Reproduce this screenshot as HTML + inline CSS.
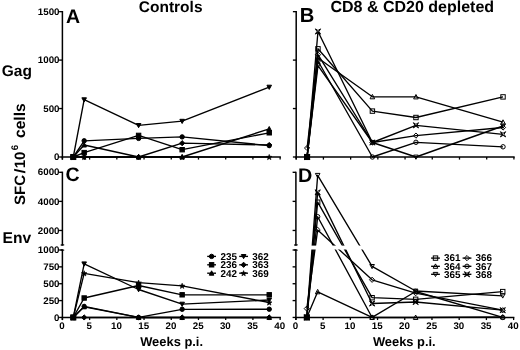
<!DOCTYPE html><html><head><meta charset="utf-8"><style>html,body{margin:0;padding:0;background:#fff;}svg{display:block;will-change:transform}text{text-rendering:geometricPrecision}</style></head><body>
<svg width="520" height="350" viewBox="0 0 520 350">
<rect width="520" height="350" fill="#fff"/>
<text x="170.65" y="12.0" font-size="15.5" text-anchor="middle" font-family="'Liberation Sans', sans-serif" font-weight="bold">Controls</text>
<text x="412.3" y="12.0" font-size="16.0" text-anchor="middle" font-family="'Liberation Sans', sans-serif" font-weight="bold">CD8 &amp; CD20 depleted</text>
<text x="65.9" y="22.9" font-size="19.5" font-family="'Liberation Sans', sans-serif" font-weight="bold">A</text>
<text x="299.8" y="22.3" font-size="20.2" font-family="'Liberation Sans', sans-serif" font-weight="bold">B</text>
<text x="65.6" y="181.4" font-size="19.5" font-family="'Liberation Sans', sans-serif" font-weight="bold">C</text>
<text x="297.9" y="181.6" font-size="19.8" font-family="'Liberation Sans', sans-serif" font-weight="bold">D</text>
<text x="1.8" y="75.7" font-size="15.5" font-family="'Liberation Sans', sans-serif" font-weight="bold">Gag</text>
<text x="2.5" y="242.8" font-size="15.6" font-family="'Liberation Sans', sans-serif" font-weight="bold">Env</text>
<text transform="translate(25.3,205.0) rotate(-90)" font-size="15" font-family="'Liberation Sans', sans-serif" font-weight="bold">SFC</text>
<text transform="translate(25.3,173.6) rotate(-90) scale(1.2,1)" font-size="15" font-family="'Liberation Sans', sans-serif" font-weight="bold">/</text>
<text transform="translate(25.3,168.3) rotate(-90)" font-size="15" font-family="'Liberation Sans', sans-serif" font-weight="bold">10</text>
<text transform="translate(17.6,150.3) rotate(-90)" font-size="9.6" font-family="'Liberation Sans', sans-serif" font-weight="bold">6</text>
<text transform="translate(25.3,138.0) rotate(-90)" font-size="15.6" font-family="'Liberation Sans', sans-serif" font-weight="bold">cells</text>
<text x="140.2" y="345.8" font-size="12.9" font-family="'Liberation Sans', sans-serif" font-weight="bold">Weeks p.i.</text>
<text x="372.9" y="345.8" font-size="12.9" font-family="'Liberation Sans', sans-serif" font-weight="bold">Weeks p.i.</text>
<line x1="62.4" y1="11.00" x2="62.4" y2="159.60" stroke="#000" stroke-width="1.5"/>
<line x1="59.10" y1="157.00" x2="62.40" y2="157.00" stroke="#000" stroke-width="1.35"/>
<text x="59.55" y="160.15" font-size="9.5" text-anchor="end" textLength="5.44" lengthAdjust="spacingAndGlyphs" font-family="'Liberation Sans', sans-serif" font-weight="bold">0</text>
<line x1="59.10" y1="108.55" x2="62.40" y2="108.55" stroke="#000" stroke-width="1.35"/>
<text x="59.55" y="111.70" font-size="9.5" text-anchor="end" textLength="16.32" lengthAdjust="spacingAndGlyphs" font-family="'Liberation Sans', sans-serif" font-weight="bold">500</text>
<line x1="59.10" y1="60.10" x2="62.40" y2="60.10" stroke="#000" stroke-width="1.35"/>
<text x="59.55" y="63.25" font-size="9.5" text-anchor="end" textLength="21.76" lengthAdjust="spacingAndGlyphs" font-family="'Liberation Sans', sans-serif" font-weight="bold">1000</text>
<line x1="59.10" y1="11.65" x2="62.40" y2="11.65" stroke="#000" stroke-width="1.35"/>
<text x="59.55" y="14.80" font-size="9.5" text-anchor="end" textLength="21.76" lengthAdjust="spacingAndGlyphs" font-family="'Liberation Sans', sans-serif" font-weight="bold">1500</text>
<line x1="61.65" y1="157.0" x2="280.87" y2="157.0" stroke="#000" stroke-width="1.5"/>
<line x1="62.40" y1="157.0" x2="62.40" y2="159.60" stroke="#000" stroke-width="1.3"/>
<line x1="89.61" y1="157.0" x2="89.61" y2="159.60" stroke="#000" stroke-width="1.3"/>
<line x1="116.83" y1="157.0" x2="116.83" y2="159.60" stroke="#000" stroke-width="1.3"/>
<line x1="144.04" y1="157.0" x2="144.04" y2="159.60" stroke="#000" stroke-width="1.3"/>
<line x1="171.26" y1="157.0" x2="171.26" y2="159.60" stroke="#000" stroke-width="1.3"/>
<line x1="198.47" y1="157.0" x2="198.47" y2="159.60" stroke="#000" stroke-width="1.3"/>
<line x1="225.69" y1="157.0" x2="225.69" y2="159.60" stroke="#000" stroke-width="1.3"/>
<line x1="252.91" y1="157.0" x2="252.91" y2="159.60" stroke="#000" stroke-width="1.3"/>
<line x1="280.12" y1="157.0" x2="280.12" y2="159.60" stroke="#000" stroke-width="1.3"/>
<line x1="296.2" y1="11.00" x2="296.2" y2="159.60" stroke="#000" stroke-width="1.5"/>
<line x1="292.90" y1="157.00" x2="296.20" y2="157.00" stroke="#000" stroke-width="1.35"/>
<line x1="292.90" y1="108.55" x2="296.20" y2="108.55" stroke="#000" stroke-width="1.35"/>
<line x1="292.90" y1="60.10" x2="296.20" y2="60.10" stroke="#000" stroke-width="1.35"/>
<line x1="292.90" y1="11.65" x2="296.20" y2="11.65" stroke="#000" stroke-width="1.35"/>
<line x1="295.45" y1="157.0" x2="514.67" y2="157.0" stroke="#000" stroke-width="1.5"/>
<line x1="296.20" y1="157.0" x2="296.20" y2="159.60" stroke="#000" stroke-width="1.3"/>
<line x1="323.41" y1="157.0" x2="323.41" y2="159.60" stroke="#000" stroke-width="1.3"/>
<line x1="350.63" y1="157.0" x2="350.63" y2="159.60" stroke="#000" stroke-width="1.3"/>
<line x1="377.84" y1="157.0" x2="377.84" y2="159.60" stroke="#000" stroke-width="1.3"/>
<line x1="405.06" y1="157.0" x2="405.06" y2="159.60" stroke="#000" stroke-width="1.3"/>
<line x1="432.27" y1="157.0" x2="432.27" y2="159.60" stroke="#000" stroke-width="1.3"/>
<line x1="459.49" y1="157.0" x2="459.49" y2="159.60" stroke="#000" stroke-width="1.3"/>
<line x1="486.70" y1="157.0" x2="486.70" y2="159.60" stroke="#000" stroke-width="1.3"/>
<line x1="513.92" y1="157.0" x2="513.92" y2="159.60" stroke="#000" stroke-width="1.3"/>
<line x1="62.4" y1="171.65" x2="62.4" y2="245.50" stroke="#000" stroke-width="1.5"/>
<line x1="62.4" y1="249.50" x2="62.4" y2="320.05" stroke="#000" stroke-width="1.5"/>
<line x1="60.70" y1="245.00" x2="64.20" y2="245.00" stroke="#000" stroke-width="1.4"/>
<line x1="60.70" y1="250.00" x2="64.20" y2="250.00" stroke="#000" stroke-width="1.4"/>
<line x1="59.10" y1="230.46" x2="62.40" y2="230.46" stroke="#000" stroke-width="1.35"/>
<text x="59.55" y="233.61" font-size="9.5" text-anchor="end" textLength="21.76" lengthAdjust="spacingAndGlyphs" font-family="'Liberation Sans', sans-serif" font-weight="bold">2000</text>
<line x1="59.10" y1="201.38" x2="62.40" y2="201.38" stroke="#000" stroke-width="1.35"/>
<text x="59.55" y="204.53" font-size="9.5" text-anchor="end" textLength="21.76" lengthAdjust="spacingAndGlyphs" font-family="'Liberation Sans', sans-serif" font-weight="bold">4000</text>
<line x1="59.10" y1="172.30" x2="62.40" y2="172.30" stroke="#000" stroke-width="1.35"/>
<text x="59.55" y="175.45" font-size="9.5" text-anchor="end" textLength="21.76" lengthAdjust="spacingAndGlyphs" font-family="'Liberation Sans', sans-serif" font-weight="bold">6000</text>
<line x1="59.10" y1="317.45" x2="62.40" y2="317.45" stroke="#000" stroke-width="1.35"/>
<text x="59.55" y="320.60" font-size="9.5" text-anchor="end" textLength="5.44" lengthAdjust="spacingAndGlyphs" font-family="'Liberation Sans', sans-serif" font-weight="bold">0</text>
<line x1="59.10" y1="300.59" x2="62.40" y2="300.59" stroke="#000" stroke-width="1.35"/>
<text x="59.55" y="303.74" font-size="9.5" text-anchor="end" textLength="16.32" lengthAdjust="spacingAndGlyphs" font-family="'Liberation Sans', sans-serif" font-weight="bold">250</text>
<line x1="59.10" y1="283.73" x2="62.40" y2="283.73" stroke="#000" stroke-width="1.35"/>
<text x="59.55" y="286.88" font-size="9.5" text-anchor="end" textLength="16.32" lengthAdjust="spacingAndGlyphs" font-family="'Liberation Sans', sans-serif" font-weight="bold">500</text>
<line x1="59.10" y1="266.86" x2="62.40" y2="266.86" stroke="#000" stroke-width="1.35"/>
<text x="59.55" y="270.01" font-size="9.5" text-anchor="end" textLength="16.32" lengthAdjust="spacingAndGlyphs" font-family="'Liberation Sans', sans-serif" font-weight="bold">750</text>
<line x1="59.10" y1="250.00" x2="62.40" y2="250.00" stroke="#000" stroke-width="1.35"/>
<text x="59.55" y="253.15" font-size="9.5" text-anchor="end" textLength="21.76" lengthAdjust="spacingAndGlyphs" font-family="'Liberation Sans', sans-serif" font-weight="bold">1000</text>
<line x1="61.65" y1="317.45" x2="280.87" y2="317.45" stroke="#000" stroke-width="1.5"/>
<line x1="62.40" y1="317.45" x2="62.40" y2="320.05" stroke="#000" stroke-width="1.3"/>
<text x="62.10" y="329.0" font-size="9.5" text-anchor="middle" textLength="5.44" lengthAdjust="spacingAndGlyphs" font-family="'Liberation Sans', sans-serif" font-weight="bold">0</text>
<line x1="89.61" y1="317.45" x2="89.61" y2="320.05" stroke="#000" stroke-width="1.3"/>
<text x="89.31" y="329.0" font-size="9.5" text-anchor="middle" textLength="5.44" lengthAdjust="spacingAndGlyphs" font-family="'Liberation Sans', sans-serif" font-weight="bold">5</text>
<line x1="116.83" y1="317.45" x2="116.83" y2="320.05" stroke="#000" stroke-width="1.3"/>
<text x="116.53" y="329.0" font-size="9.5" text-anchor="middle" textLength="10.88" lengthAdjust="spacingAndGlyphs" font-family="'Liberation Sans', sans-serif" font-weight="bold">10</text>
<line x1="144.04" y1="317.45" x2="144.04" y2="320.05" stroke="#000" stroke-width="1.3"/>
<text x="143.74" y="329.0" font-size="9.5" text-anchor="middle" textLength="10.88" lengthAdjust="spacingAndGlyphs" font-family="'Liberation Sans', sans-serif" font-weight="bold">15</text>
<line x1="171.26" y1="317.45" x2="171.26" y2="320.05" stroke="#000" stroke-width="1.3"/>
<text x="170.96" y="329.0" font-size="9.5" text-anchor="middle" textLength="10.88" lengthAdjust="spacingAndGlyphs" font-family="'Liberation Sans', sans-serif" font-weight="bold">20</text>
<line x1="198.47" y1="317.45" x2="198.47" y2="320.05" stroke="#000" stroke-width="1.3"/>
<text x="198.17" y="329.0" font-size="9.5" text-anchor="middle" textLength="10.88" lengthAdjust="spacingAndGlyphs" font-family="'Liberation Sans', sans-serif" font-weight="bold">25</text>
<line x1="225.69" y1="317.45" x2="225.69" y2="320.05" stroke="#000" stroke-width="1.3"/>
<text x="225.39" y="329.0" font-size="9.5" text-anchor="middle" textLength="10.88" lengthAdjust="spacingAndGlyphs" font-family="'Liberation Sans', sans-serif" font-weight="bold">30</text>
<line x1="252.91" y1="317.45" x2="252.91" y2="320.05" stroke="#000" stroke-width="1.3"/>
<text x="252.60" y="329.0" font-size="9.5" text-anchor="middle" textLength="10.88" lengthAdjust="spacingAndGlyphs" font-family="'Liberation Sans', sans-serif" font-weight="bold">35</text>
<line x1="280.12" y1="317.45" x2="280.12" y2="320.05" stroke="#000" stroke-width="1.3"/>
<text x="279.82" y="329.0" font-size="9.5" text-anchor="middle" textLength="10.88" lengthAdjust="spacingAndGlyphs" font-family="'Liberation Sans', sans-serif" font-weight="bold">40</text>
<line x1="295.9" y1="171.65" x2="295.9" y2="245.50" stroke="#000" stroke-width="1.5"/>
<line x1="295.9" y1="249.50" x2="295.9" y2="320.05" stroke="#000" stroke-width="1.5"/>
<line x1="294.20" y1="245.00" x2="297.70" y2="245.00" stroke="#000" stroke-width="1.4"/>
<line x1="294.20" y1="250.00" x2="297.70" y2="250.00" stroke="#000" stroke-width="1.4"/>
<line x1="292.60" y1="230.46" x2="295.90" y2="230.46" stroke="#000" stroke-width="1.35"/>
<line x1="292.60" y1="201.38" x2="295.90" y2="201.38" stroke="#000" stroke-width="1.35"/>
<line x1="292.60" y1="172.30" x2="295.90" y2="172.30" stroke="#000" stroke-width="1.35"/>
<line x1="292.60" y1="317.45" x2="295.90" y2="317.45" stroke="#000" stroke-width="1.35"/>
<line x1="292.60" y1="300.59" x2="295.90" y2="300.59" stroke="#000" stroke-width="1.35"/>
<line x1="292.60" y1="283.73" x2="295.90" y2="283.73" stroke="#000" stroke-width="1.35"/>
<line x1="292.60" y1="266.86" x2="295.90" y2="266.86" stroke="#000" stroke-width="1.35"/>
<line x1="292.60" y1="250.00" x2="295.90" y2="250.00" stroke="#000" stroke-width="1.35"/>
<line x1="295.15" y1="317.45" x2="514.37" y2="317.45" stroke="#000" stroke-width="1.5"/>
<line x1="295.90" y1="317.45" x2="295.90" y2="320.05" stroke="#000" stroke-width="1.3"/>
<text x="295.60" y="329.0" font-size="9.5" text-anchor="middle" textLength="5.44" lengthAdjust="spacingAndGlyphs" font-family="'Liberation Sans', sans-serif" font-weight="bold">0</text>
<line x1="323.11" y1="317.45" x2="323.11" y2="320.05" stroke="#000" stroke-width="1.3"/>
<text x="322.81" y="329.0" font-size="9.5" text-anchor="middle" textLength="5.44" lengthAdjust="spacingAndGlyphs" font-family="'Liberation Sans', sans-serif" font-weight="bold">5</text>
<line x1="350.33" y1="317.45" x2="350.33" y2="320.05" stroke="#000" stroke-width="1.3"/>
<text x="350.03" y="329.0" font-size="9.5" text-anchor="middle" textLength="10.88" lengthAdjust="spacingAndGlyphs" font-family="'Liberation Sans', sans-serif" font-weight="bold">10</text>
<line x1="377.54" y1="317.45" x2="377.54" y2="320.05" stroke="#000" stroke-width="1.3"/>
<text x="377.24" y="329.0" font-size="9.5" text-anchor="middle" textLength="10.88" lengthAdjust="spacingAndGlyphs" font-family="'Liberation Sans', sans-serif" font-weight="bold">15</text>
<line x1="404.76" y1="317.45" x2="404.76" y2="320.05" stroke="#000" stroke-width="1.3"/>
<text x="404.46" y="329.0" font-size="9.5" text-anchor="middle" textLength="10.88" lengthAdjust="spacingAndGlyphs" font-family="'Liberation Sans', sans-serif" font-weight="bold">20</text>
<line x1="431.97" y1="317.45" x2="431.97" y2="320.05" stroke="#000" stroke-width="1.3"/>
<text x="431.67" y="329.0" font-size="9.5" text-anchor="middle" textLength="10.88" lengthAdjust="spacingAndGlyphs" font-family="'Liberation Sans', sans-serif" font-weight="bold">25</text>
<line x1="459.19" y1="317.45" x2="459.19" y2="320.05" stroke="#000" stroke-width="1.3"/>
<text x="458.89" y="329.0" font-size="9.5" text-anchor="middle" textLength="10.88" lengthAdjust="spacingAndGlyphs" font-family="'Liberation Sans', sans-serif" font-weight="bold">30</text>
<line x1="486.40" y1="317.45" x2="486.40" y2="320.05" stroke="#000" stroke-width="1.3"/>
<text x="486.10" y="329.0" font-size="9.5" text-anchor="middle" textLength="10.88" lengthAdjust="spacingAndGlyphs" font-family="'Liberation Sans', sans-serif" font-weight="bold">35</text>
<line x1="513.62" y1="317.45" x2="513.62" y2="320.05" stroke="#000" stroke-width="1.3"/>
<text x="513.32" y="329.0" font-size="9.5" text-anchor="middle" textLength="10.88" lengthAdjust="spacingAndGlyphs" font-family="'Liberation Sans', sans-serif" font-weight="bold">40</text>
<polyline points="73.29,157.00 84.17,99.70 138.60,125.40 182.15,121.20 269.23,87.10" fill="none" stroke="#000" stroke-width="1.35" stroke-linejoin="round"/>
<polyline points="73.29,157.00 84.17,140.80 138.60,138.40 182.15,136.90 269.23,145.60" fill="none" stroke="#000" stroke-width="1.35" stroke-linejoin="round"/>
<polyline points="73.29,157.00 84.17,145.00 138.60,157.00 182.15,157.00 269.23,128.90" fill="none" stroke="#000" stroke-width="1.35" stroke-linejoin="round"/>
<polyline points="73.29,157.00 84.17,152.60 138.60,135.40 182.15,149.70 269.23,132.80" fill="none" stroke="#000" stroke-width="1.35" stroke-linejoin="round"/>
<polyline points="73.29,157.00 84.17,157.00 138.60,157.00 182.15,143.20 269.23,145.00" fill="none" stroke="#000" stroke-width="1.35" stroke-linejoin="round"/>
<polyline points="73.29,157.00 84.17,157.00 138.60,157.00 182.15,157.00 269.23,157.00" fill="none" stroke="#000" stroke-width="1.35" stroke-linejoin="round"/>
<polygon points="73.29,159.30 75.59,155.10 70.99,155.10" fill="#000" stroke="#000" stroke-width="1.0" stroke-linejoin="miter"/>
<polygon points="84.17,102.00 86.47,97.80 81.87,97.80" fill="#000" stroke="#000" stroke-width="1.0" stroke-linejoin="miter"/>
<polygon points="138.60,127.70 140.90,123.50 136.30,123.50" fill="#000" stroke="#000" stroke-width="1.0" stroke-linejoin="miter"/>
<polygon points="182.15,123.50 184.45,119.30 179.85,119.30" fill="#000" stroke="#000" stroke-width="1.0" stroke-linejoin="miter"/>
<polygon points="269.23,89.40 271.53,85.20 266.93,85.20" fill="#000" stroke="#000" stroke-width="1.0" stroke-linejoin="miter"/>
<circle cx="73.29" cy="157.00" r="2.20" fill="#000" stroke="#000" stroke-width="1.0"/>
<circle cx="84.17" cy="140.80" r="2.20" fill="#000" stroke="#000" stroke-width="1.0"/>
<circle cx="138.60" cy="138.40" r="2.20" fill="#000" stroke="#000" stroke-width="1.0"/>
<circle cx="182.15" cy="136.90" r="2.20" fill="#000" stroke="#000" stroke-width="1.0"/>
<circle cx="269.23" cy="145.60" r="2.20" fill="#000" stroke="#000" stroke-width="1.0"/>
<polygon points="73.29,154.60 75.59,159.00 70.99,159.00" fill="#000" stroke="#000" stroke-width="1.0" stroke-linejoin="miter"/>
<polygon points="84.17,142.60 86.47,147.00 81.87,147.00" fill="#000" stroke="#000" stroke-width="1.0" stroke-linejoin="miter"/>
<polygon points="138.60,154.60 140.90,159.00 136.30,159.00" fill="#000" stroke="#000" stroke-width="1.0" stroke-linejoin="miter"/>
<polygon points="182.15,154.60 184.45,159.00 179.85,159.00" fill="#000" stroke="#000" stroke-width="1.0" stroke-linejoin="miter"/>
<polygon points="269.23,126.50 271.53,130.90 266.93,130.90" fill="#000" stroke="#000" stroke-width="1.0" stroke-linejoin="miter"/>
<rect x="71.09" y="154.80" width="4.40" height="4.40" fill="#000" stroke="#000" stroke-width="1.0"/>
<rect x="81.97" y="150.40" width="4.40" height="4.40" fill="#000" stroke="#000" stroke-width="1.0"/>
<rect x="136.40" y="133.20" width="4.40" height="4.40" fill="#000" stroke="#000" stroke-width="1.0"/>
<rect x="179.95" y="147.50" width="4.40" height="4.40" fill="#000" stroke="#000" stroke-width="1.0"/>
<rect x="267.03" y="130.60" width="4.40" height="4.40" fill="#000" stroke="#000" stroke-width="1.0"/>
<polygon points="73.29,154.40 75.89,157.00 73.29,159.60 70.69,157.00" fill="#000" stroke="#000" stroke-width="1.0"/>
<polygon points="84.17,154.40 86.77,157.00 84.17,159.60 81.57,157.00" fill="#000" stroke="#000" stroke-width="1.0"/>
<polygon points="138.60,154.40 141.20,157.00 138.60,159.60 136.00,157.00" fill="#000" stroke="#000" stroke-width="1.0"/>
<polygon points="182.15,140.60 184.75,143.20 182.15,145.80 179.55,143.20" fill="#000" stroke="#000" stroke-width="1.0"/>
<polygon points="269.23,142.40 271.83,145.00 269.23,147.60 266.63,145.00" fill="#000" stroke="#000" stroke-width="1.0"/>
<polygon points="73.29,154.40 72.55,156.29 70.53,156.40 72.10,157.69 71.58,159.65 73.29,158.55 74.99,159.65 74.47,157.69 76.04,156.40 74.02,156.29" fill="#000" stroke="#000" stroke-width="0.60"/>
<polygon points="84.17,154.40 83.44,156.29 81.41,156.40 82.98,157.69 82.47,159.65 84.17,158.55 85.88,159.65 85.36,157.69 86.93,156.40 84.91,156.29" fill="#000" stroke="#000" stroke-width="0.60"/>
<polygon points="138.60,154.40 137.87,156.29 135.84,156.40 137.41,157.69 136.90,159.65 138.60,158.55 140.31,159.65 139.79,157.69 141.36,156.40 139.34,156.29" fill="#000" stroke="#000" stroke-width="0.60"/>
<polygon points="182.15,154.40 181.41,156.29 179.39,156.40 180.96,157.69 180.44,159.65 182.15,158.55 183.85,159.65 183.33,157.69 184.90,156.40 182.88,156.29" fill="#000" stroke="#000" stroke-width="0.60"/>
<polygon points="269.23,154.40 268.50,156.29 266.48,156.40 268.05,157.69 267.53,159.65 269.23,158.55 270.94,159.65 270.42,157.69 271.99,156.40 269.97,156.29" fill="#000" stroke="#000" stroke-width="0.60"/>
<polyline points="307.09,157.00 317.97,31.50 372.40,142.50 415.95,125.30 503.03,134.30" fill="none" stroke="#000" stroke-width="1.35" stroke-linejoin="round"/>
<polyline points="307.09,157.00 317.97,48.80 372.40,111.10 415.95,117.50 503.03,96.90" fill="none" stroke="#000" stroke-width="1.35" stroke-linejoin="round"/>
<polyline points="307.09,148.00 317.97,54.70 372.40,142.50 415.95,135.60 503.03,127.50" fill="none" stroke="#000" stroke-width="1.35" stroke-linejoin="round"/>
<polyline points="307.09,157.00 317.97,58.00 372.40,96.80 415.95,96.90 503.03,122.20" fill="none" stroke="#000" stroke-width="1.35" stroke-linejoin="round"/>
<polyline points="307.09,157.00 317.97,61.00 372.40,157.00 415.95,142.30 503.03,146.80" fill="none" stroke="#000" stroke-width="1.35" stroke-linejoin="round"/>
<polyline points="307.09,157.00 317.97,65.60 372.40,142.50 415.95,157.00 503.03,126.00" fill="none" stroke="#000" stroke-width="1.35" stroke-linejoin="round"/>
<polygon points="304.49,154.40 307.09,156.00 309.69,154.40 308.09,157.00 309.69,159.60 307.09,158.00 304.49,159.60 306.09,157.00" fill="none" stroke="#000" stroke-width="1.0"/>
<polygon points="315.37,28.90 317.97,30.50 320.57,28.90 318.97,31.50 320.57,34.10 317.97,32.50 315.37,34.10 316.97,31.50" fill="none" stroke="#000" stroke-width="1.0"/>
<polygon points="369.80,139.90 372.40,141.50 375.00,139.90 373.40,142.50 375.00,145.10 372.40,143.50 369.80,145.10 371.40,142.50" fill="none" stroke="#000" stroke-width="1.0"/>
<polygon points="413.35,122.70 415.95,124.30 418.55,122.70 416.95,125.30 418.55,127.90 415.95,126.30 413.35,127.90 414.95,125.30" fill="none" stroke="#000" stroke-width="1.0"/>
<polygon points="500.43,131.70 503.03,133.30 505.63,131.70 504.03,134.30 505.63,136.90 503.03,135.30 500.43,136.90 502.03,134.30" fill="none" stroke="#000" stroke-width="1.0"/>
<rect x="304.89" y="154.80" width="4.40" height="4.40" fill="none" stroke="#000" stroke-width="1.0"/>
<rect x="315.77" y="46.60" width="4.40" height="4.40" fill="none" stroke="#000" stroke-width="1.0"/>
<rect x="370.20" y="108.90" width="4.40" height="4.40" fill="none" stroke="#000" stroke-width="1.0"/>
<rect x="413.75" y="115.30" width="4.40" height="4.40" fill="none" stroke="#000" stroke-width="1.0"/>
<rect x="500.83" y="94.70" width="4.40" height="4.40" fill="none" stroke="#000" stroke-width="1.0"/>
<polygon points="307.09,145.40 309.69,148.00 307.09,150.60 304.49,148.00" fill="none" stroke="#000" stroke-width="1.0"/>
<polygon points="317.97,52.10 320.57,54.70 317.97,57.30 315.37,54.70" fill="none" stroke="#000" stroke-width="1.0"/>
<polygon points="372.40,139.90 375.00,142.50 372.40,145.10 369.80,142.50" fill="none" stroke="#000" stroke-width="1.0"/>
<polygon points="415.95,133.00 418.55,135.60 415.95,138.20 413.35,135.60" fill="none" stroke="#000" stroke-width="1.0"/>
<polygon points="503.03,124.90 505.63,127.50 503.03,130.10 500.43,127.50" fill="none" stroke="#000" stroke-width="1.0"/>
<polygon points="307.09,154.60 309.39,159.00 304.79,159.00" fill="none" stroke="#000" stroke-width="1.0" stroke-linejoin="miter"/>
<polygon points="317.97,55.60 320.27,60.00 315.67,60.00" fill="none" stroke="#000" stroke-width="1.0" stroke-linejoin="miter"/>
<polygon points="372.40,94.40 374.70,98.80 370.10,98.80" fill="none" stroke="#000" stroke-width="1.0" stroke-linejoin="miter"/>
<polygon points="415.95,94.50 418.25,98.90 413.65,98.90" fill="none" stroke="#000" stroke-width="1.0" stroke-linejoin="miter"/>
<polygon points="503.03,119.80 505.33,124.20 500.73,124.20" fill="none" stroke="#000" stroke-width="1.0" stroke-linejoin="miter"/>
<circle cx="307.09" cy="157.00" r="2.20" fill="none" stroke="#000" stroke-width="1.0"/>
<circle cx="317.97" cy="61.00" r="2.20" fill="none" stroke="#000" stroke-width="1.0"/>
<circle cx="372.40" cy="157.00" r="2.20" fill="none" stroke="#000" stroke-width="1.0"/>
<circle cx="415.95" cy="142.30" r="2.20" fill="none" stroke="#000" stroke-width="1.0"/>
<circle cx="503.03" cy="146.80" r="2.20" fill="none" stroke="#000" stroke-width="1.0"/>
<polygon points="307.09,159.30 309.39,155.10 304.79,155.10" fill="none" stroke="#000" stroke-width="1.0" stroke-linejoin="miter"/>
<polygon points="317.97,67.90 320.27,63.70 315.67,63.70" fill="none" stroke="#000" stroke-width="1.0" stroke-linejoin="miter"/>
<polygon points="372.40,144.80 374.70,140.60 370.10,140.60" fill="none" stroke="#000" stroke-width="1.0" stroke-linejoin="miter"/>
<polygon points="415.95,159.30 418.25,155.10 413.65,155.10" fill="none" stroke="#000" stroke-width="1.0" stroke-linejoin="miter"/>
<polygon points="503.03,128.30 505.33,124.10 500.73,124.10" fill="none" stroke="#000" stroke-width="1.0" stroke-linejoin="miter"/>
<polyline points="73.29,317.45 84.17,263.80 138.60,289.50 182.15,304.10 269.23,300.00" fill="none" stroke="#000" stroke-width="1.35" stroke-linejoin="round"/>
<polyline points="73.29,317.45 84.17,273.30 138.60,282.60 182.15,285.80 269.23,302.50" fill="none" stroke="#000" stroke-width="1.35" stroke-linejoin="round"/>
<polyline points="73.29,317.45 84.17,298.00 138.60,285.50 182.15,294.80 269.23,294.80" fill="none" stroke="#000" stroke-width="1.35" stroke-linejoin="round"/>
<polyline points="73.29,317.45 84.17,306.40 138.60,317.45 182.15,309.30 269.23,309.20" fill="none" stroke="#000" stroke-width="1.35" stroke-linejoin="round"/>
<polyline points="73.29,317.45 84.17,306.80 138.60,317.45 182.15,317.45 269.23,317.45" fill="none" stroke="#000" stroke-width="1.35" stroke-linejoin="round"/>
<polyline points="73.29,317.45 84.17,317.45 138.60,317.45 182.15,317.45 269.23,317.45" fill="none" stroke="#000" stroke-width="1.35" stroke-linejoin="round"/>
<polygon points="73.29,319.75 75.59,315.55 70.99,315.55" fill="#000" stroke="#000" stroke-width="1.0" stroke-linejoin="miter"/>
<polygon points="84.17,266.10 86.47,261.90 81.87,261.90" fill="#000" stroke="#000" stroke-width="1.0" stroke-linejoin="miter"/>
<polygon points="138.60,291.80 140.90,287.60 136.30,287.60" fill="#000" stroke="#000" stroke-width="1.0" stroke-linejoin="miter"/>
<polygon points="182.15,306.40 184.45,302.20 179.85,302.20" fill="#000" stroke="#000" stroke-width="1.0" stroke-linejoin="miter"/>
<polygon points="269.23,302.30 271.53,298.10 266.93,298.10" fill="#000" stroke="#000" stroke-width="1.0" stroke-linejoin="miter"/>
<polygon points="73.29,314.85 72.55,316.74 70.53,316.85 72.10,318.14 71.58,320.10 73.29,319.00 74.99,320.10 74.47,318.14 76.04,316.85 74.02,316.74" fill="#000" stroke="#000" stroke-width="0.60"/>
<polygon points="84.17,270.70 83.44,272.59 81.41,272.70 82.98,273.99 82.47,275.95 84.17,274.85 85.88,275.95 85.36,273.99 86.93,272.70 84.91,272.59" fill="#000" stroke="#000" stroke-width="0.60"/>
<polygon points="138.60,280.00 137.87,281.89 135.84,282.00 137.41,283.29 136.90,285.25 138.60,284.15 140.31,285.25 139.79,283.29 141.36,282.00 139.34,281.89" fill="#000" stroke="#000" stroke-width="0.60"/>
<polygon points="182.15,283.20 181.41,285.09 179.39,285.20 180.96,286.49 180.44,288.45 182.15,287.35 183.85,288.45 183.33,286.49 184.90,285.20 182.88,285.09" fill="#000" stroke="#000" stroke-width="0.60"/>
<polygon points="269.23,299.90 268.50,301.79 266.48,301.90 268.05,303.19 267.53,305.15 269.23,304.05 270.94,305.15 270.42,303.19 271.99,301.90 269.97,301.79" fill="#000" stroke="#000" stroke-width="0.60"/>
<rect x="71.09" y="315.25" width="4.40" height="4.40" fill="#000" stroke="#000" stroke-width="1.0"/>
<rect x="81.97" y="295.80" width="4.40" height="4.40" fill="#000" stroke="#000" stroke-width="1.0"/>
<rect x="136.40" y="283.30" width="4.40" height="4.40" fill="#000" stroke="#000" stroke-width="1.0"/>
<rect x="179.95" y="292.60" width="4.40" height="4.40" fill="#000" stroke="#000" stroke-width="1.0"/>
<rect x="267.03" y="292.60" width="4.40" height="4.40" fill="#000" stroke="#000" stroke-width="1.0"/>
<circle cx="73.29" cy="317.45" r="2.20" fill="#000" stroke="#000" stroke-width="1.0"/>
<circle cx="84.17" cy="306.40" r="2.20" fill="#000" stroke="#000" stroke-width="1.0"/>
<circle cx="138.60" cy="317.45" r="2.20" fill="#000" stroke="#000" stroke-width="1.0"/>
<circle cx="182.15" cy="309.30" r="2.20" fill="#000" stroke="#000" stroke-width="1.0"/>
<circle cx="269.23" cy="309.20" r="2.20" fill="#000" stroke="#000" stroke-width="1.0"/>
<polygon points="73.29,315.05 75.59,319.45 70.99,319.45" fill="#000" stroke="#000" stroke-width="1.0" stroke-linejoin="miter"/>
<polygon points="84.17,304.40 86.47,308.80 81.87,308.80" fill="#000" stroke="#000" stroke-width="1.0" stroke-linejoin="miter"/>
<polygon points="138.60,315.05 140.90,319.45 136.30,319.45" fill="#000" stroke="#000" stroke-width="1.0" stroke-linejoin="miter"/>
<polygon points="182.15,315.05 184.45,319.45 179.85,319.45" fill="#000" stroke="#000" stroke-width="1.0" stroke-linejoin="miter"/>
<polygon points="269.23,315.05 271.53,319.45 266.93,319.45" fill="#000" stroke="#000" stroke-width="1.0" stroke-linejoin="miter"/>
<polygon points="73.29,314.85 75.89,317.45 73.29,320.05 70.69,317.45" fill="#000" stroke="#000" stroke-width="1.0"/>
<polygon points="84.17,314.85 86.77,317.45 84.17,320.05 81.57,317.45" fill="#000" stroke="#000" stroke-width="1.0"/>
<polygon points="138.60,314.85 141.20,317.45 138.60,320.05 136.00,317.45" fill="#000" stroke="#000" stroke-width="1.0"/>
<polygon points="182.15,314.85 184.75,317.45 182.15,320.05 179.55,317.45" fill="#000" stroke="#000" stroke-width="1.0"/>
<polygon points="269.23,314.85 271.83,317.45 269.23,320.05 266.63,317.45" fill="#000" stroke="#000" stroke-width="1.0"/>
<polyline points="306.79,317.45 317.67,175.30 372.10,266.40 415.65,291.00 502.73,295.80" fill="none" stroke="#000" stroke-width="1.35" stroke-linejoin="round"/>
<polyline points="306.79,317.45 317.67,192.40 372.10,303.50 415.65,302.00 502.73,310.20" fill="none" stroke="#000" stroke-width="1.35" stroke-linejoin="round"/>
<polyline points="306.79,317.45 317.67,202.20 372.10,297.70 415.65,299.30 502.73,291.60" fill="none" stroke="#000" stroke-width="1.35" stroke-linejoin="round"/>
<polyline points="306.79,317.45 317.67,216.70 372.10,317.45 415.65,291.50 502.73,317.45" fill="none" stroke="#000" stroke-width="1.35" stroke-linejoin="round"/>
<polyline points="306.79,308.60 317.67,229.90 372.10,279.80 415.65,293.20 502.73,310.20" fill="none" stroke="#000" stroke-width="1.35" stroke-linejoin="round"/>
<polyline points="306.79,317.45 317.67,291.80 372.10,317.45 415.65,317.45 502.73,317.00" fill="none" stroke="#000" stroke-width="1.35" stroke-linejoin="round"/>
<polygon points="306.79,319.75 309.09,315.55 304.49,315.55" fill="none" stroke="#000" stroke-width="1.0" stroke-linejoin="miter"/>
<polygon points="317.67,177.60 319.97,173.40 315.37,173.40" fill="none" stroke="#000" stroke-width="1.0" stroke-linejoin="miter"/>
<polygon points="372.10,268.70 374.40,264.50 369.80,264.50" fill="none" stroke="#000" stroke-width="1.0" stroke-linejoin="miter"/>
<polygon points="415.65,293.30 417.95,289.10 413.35,289.10" fill="none" stroke="#000" stroke-width="1.0" stroke-linejoin="miter"/>
<polygon points="502.73,298.10 505.03,293.90 500.43,293.90" fill="none" stroke="#000" stroke-width="1.0" stroke-linejoin="miter"/>
<polygon points="304.19,314.85 306.79,316.45 309.39,314.85 307.79,317.45 309.39,320.05 306.79,318.45 304.19,320.05 305.79,317.45" fill="none" stroke="#000" stroke-width="1.0"/>
<polygon points="315.07,189.80 317.67,191.40 320.27,189.80 318.67,192.40 320.27,195.00 317.67,193.40 315.07,195.00 316.67,192.40" fill="none" stroke="#000" stroke-width="1.0"/>
<polygon points="369.50,300.90 372.10,302.50 374.70,300.90 373.10,303.50 374.70,306.10 372.10,304.50 369.50,306.10 371.10,303.50" fill="none" stroke="#000" stroke-width="1.0"/>
<polygon points="413.05,299.40 415.65,301.00 418.25,299.40 416.65,302.00 418.25,304.60 415.65,303.00 413.05,304.60 414.65,302.00" fill="none" stroke="#000" stroke-width="1.0"/>
<polygon points="500.13,307.60 502.73,309.20 505.33,307.60 503.73,310.20 505.33,312.80 502.73,311.20 500.13,312.80 501.73,310.20" fill="none" stroke="#000" stroke-width="1.0"/>
<rect x="304.59" y="315.25" width="4.40" height="4.40" fill="none" stroke="#000" stroke-width="1.0"/>
<rect x="315.47" y="200.00" width="4.40" height="4.40" fill="none" stroke="#000" stroke-width="1.0"/>
<rect x="369.90" y="295.50" width="4.40" height="4.40" fill="none" stroke="#000" stroke-width="1.0"/>
<rect x="413.45" y="297.10" width="4.40" height="4.40" fill="none" stroke="#000" stroke-width="1.0"/>
<rect x="500.53" y="289.40" width="4.40" height="4.40" fill="none" stroke="#000" stroke-width="1.0"/>
<circle cx="306.79" cy="317.45" r="2.20" fill="none" stroke="#000" stroke-width="1.0"/>
<circle cx="317.67" cy="216.70" r="2.20" fill="none" stroke="#000" stroke-width="1.0"/>
<circle cx="372.10" cy="317.45" r="2.20" fill="none" stroke="#000" stroke-width="1.0"/>
<circle cx="415.65" cy="291.50" r="2.20" fill="none" stroke="#000" stroke-width="1.0"/>
<circle cx="502.73" cy="317.45" r="2.20" fill="none" stroke="#000" stroke-width="1.0"/>
<polygon points="306.79,306.00 309.39,308.60 306.79,311.20 304.19,308.60" fill="none" stroke="#000" stroke-width="1.0"/>
<polygon points="317.67,227.30 320.27,229.90 317.67,232.50 315.07,229.90" fill="none" stroke="#000" stroke-width="1.0"/>
<polygon points="372.10,277.20 374.70,279.80 372.10,282.40 369.50,279.80" fill="none" stroke="#000" stroke-width="1.0"/>
<polygon points="415.65,290.60 418.25,293.20 415.65,295.80 413.05,293.20" fill="none" stroke="#000" stroke-width="1.0"/>
<polygon points="502.73,307.60 505.33,310.20 502.73,312.80 500.13,310.20" fill="none" stroke="#000" stroke-width="1.0"/>
<polygon points="306.79,315.05 309.09,319.45 304.49,319.45" fill="none" stroke="#000" stroke-width="1.0" stroke-linejoin="miter"/>
<polygon points="317.67,289.40 319.97,293.80 315.37,293.80" fill="none" stroke="#000" stroke-width="1.0" stroke-linejoin="miter"/>
<polygon points="372.10,315.05 374.40,319.45 369.80,319.45" fill="none" stroke="#000" stroke-width="1.0" stroke-linejoin="miter"/>
<polygon points="415.65,315.05 417.95,319.45 413.35,319.45" fill="none" stroke="#000" stroke-width="1.0" stroke-linejoin="miter"/>
<polygon points="502.73,314.60 505.03,319.00 500.43,319.00" fill="none" stroke="#000" stroke-width="1.0" stroke-linejoin="miter"/>
<rect x="70.76" y="154.47" width="5.06" height="5.06" fill="#000" stroke="#000" stroke-width="1.0"/>
<rect x="304.56" y="154.47" width="5.06" height="5.06" fill="#000" stroke="#000" stroke-width="1.0"/>
<rect x="70.76" y="314.92" width="5.06" height="5.06" fill="#000" stroke="#000" stroke-width="1.0"/>
<rect x="304.26" y="314.92" width="5.06" height="5.06" fill="#000" stroke="#000" stroke-width="1.0"/>
<rect x="63.40" y="245.6" width="217.72" height="3.9" fill="#fff"/>
<rect x="296.90" y="245.6" width="217.72" height="3.9" fill="#fff"/>
<circle cx="211.60" cy="256.40" r="2.20" fill="#000" stroke="#000" stroke-width="1.0"/>
<line x1="207.20" y1="256.40" x2="216.00" y2="256.40" stroke="#000" stroke-width="1.35"/>
<text x="220.60" y="259.70" font-size="9.9" font-family="'Liberation Sans', sans-serif" font-weight="bold">235</text>
<polygon points="243.60,258.70 245.90,254.50 241.30,254.50" fill="#000" stroke="#000" stroke-width="1.0" stroke-linejoin="miter"/>
<line x1="239.20" y1="256.40" x2="248.00" y2="256.40" stroke="#000" stroke-width="1.35"/>
<text x="252.20" y="259.70" font-size="9.9" font-family="'Liberation Sans', sans-serif" font-weight="bold">362</text>
<rect x="209.40" y="262.60" width="4.40" height="4.40" fill="#000" stroke="#000" stroke-width="1.0"/>
<line x1="207.20" y1="264.80" x2="216.00" y2="264.80" stroke="#000" stroke-width="1.35"/>
<text x="220.60" y="268.10" font-size="9.9" font-family="'Liberation Sans', sans-serif" font-weight="bold">236</text>
<polygon points="243.60,262.20 246.20,264.80 243.60,267.40 241.00,264.80" fill="#000" stroke="#000" stroke-width="1.0"/>
<line x1="239.20" y1="264.80" x2="248.00" y2="264.80" stroke="#000" stroke-width="1.35"/>
<text x="252.20" y="268.10" font-size="9.9" font-family="'Liberation Sans', sans-serif" font-weight="bold">363</text>
<polygon points="211.60,270.80 213.90,275.20 209.30,275.20" fill="#000" stroke="#000" stroke-width="1.0" stroke-linejoin="miter"/>
<line x1="207.20" y1="273.20" x2="216.00" y2="273.20" stroke="#000" stroke-width="1.35"/>
<text x="220.60" y="276.50" font-size="9.9" font-family="'Liberation Sans', sans-serif" font-weight="bold">242</text>
<polygon points="243.60,270.60 242.87,272.49 240.84,272.60 242.41,273.89 241.90,275.85 243.60,274.75 245.30,275.85 244.79,273.89 246.36,272.60 244.33,272.49" fill="#000" stroke="#000" stroke-width="0.60"/>
<line x1="239.20" y1="273.20" x2="248.00" y2="273.20" stroke="#000" stroke-width="1.35"/>
<text x="252.20" y="276.50" font-size="9.9" font-family="'Liberation Sans', sans-serif" font-weight="bold">369</text>
<rect x="433.30" y="255.90" width="4.40" height="4.40" fill="none" stroke="#000" stroke-width="1.0"/>
<line x1="431.10" y1="258.10" x2="439.90" y2="258.10" stroke="#000" stroke-width="1.35"/>
<text x="444.00" y="261.40" font-size="9.9" font-family="'Liberation Sans', sans-serif" font-weight="bold">361</text>
<polygon points="467.00,255.50 469.60,258.10 467.00,260.70 464.40,258.10" fill="none" stroke="#000" stroke-width="1.0"/>
<line x1="462.60" y1="258.10" x2="471.40" y2="258.10" stroke="#000" stroke-width="1.35"/>
<text x="475.60" y="261.40" font-size="9.9" font-family="'Liberation Sans', sans-serif" font-weight="bold">366</text>
<polygon points="435.50,263.90 437.80,268.30 433.20,268.30" fill="none" stroke="#000" stroke-width="1.0" stroke-linejoin="miter"/>
<line x1="431.10" y1="266.30" x2="439.90" y2="266.30" stroke="#000" stroke-width="1.35"/>
<text x="444.00" y="269.60" font-size="9.9" font-family="'Liberation Sans', sans-serif" font-weight="bold">364</text>
<circle cx="467.00" cy="266.30" r="2.20" fill="none" stroke="#000" stroke-width="1.0"/>
<line x1="462.60" y1="266.30" x2="471.40" y2="266.30" stroke="#000" stroke-width="1.35"/>
<text x="475.60" y="269.60" font-size="9.9" font-family="'Liberation Sans', sans-serif" font-weight="bold">367</text>
<polygon points="435.50,276.60 437.80,272.40 433.20,272.40" fill="none" stroke="#000" stroke-width="1.0" stroke-linejoin="miter"/>
<line x1="431.10" y1="274.30" x2="439.90" y2="274.30" stroke="#000" stroke-width="1.35"/>
<text x="444.00" y="277.60" font-size="9.9" font-family="'Liberation Sans', sans-serif" font-weight="bold">365</text>
<polygon points="464.40,271.70 467.00,273.30 469.60,271.70 468.00,274.30 469.60,276.90 467.00,275.30 464.40,276.90 466.00,274.30" fill="none" stroke="#000" stroke-width="1.0"/>
<line x1="462.60" y1="274.30" x2="471.40" y2="274.30" stroke="#000" stroke-width="1.35"/>
<text x="475.60" y="277.60" font-size="9.9" font-family="'Liberation Sans', sans-serif" font-weight="bold">368</text>
</svg></body></html>
